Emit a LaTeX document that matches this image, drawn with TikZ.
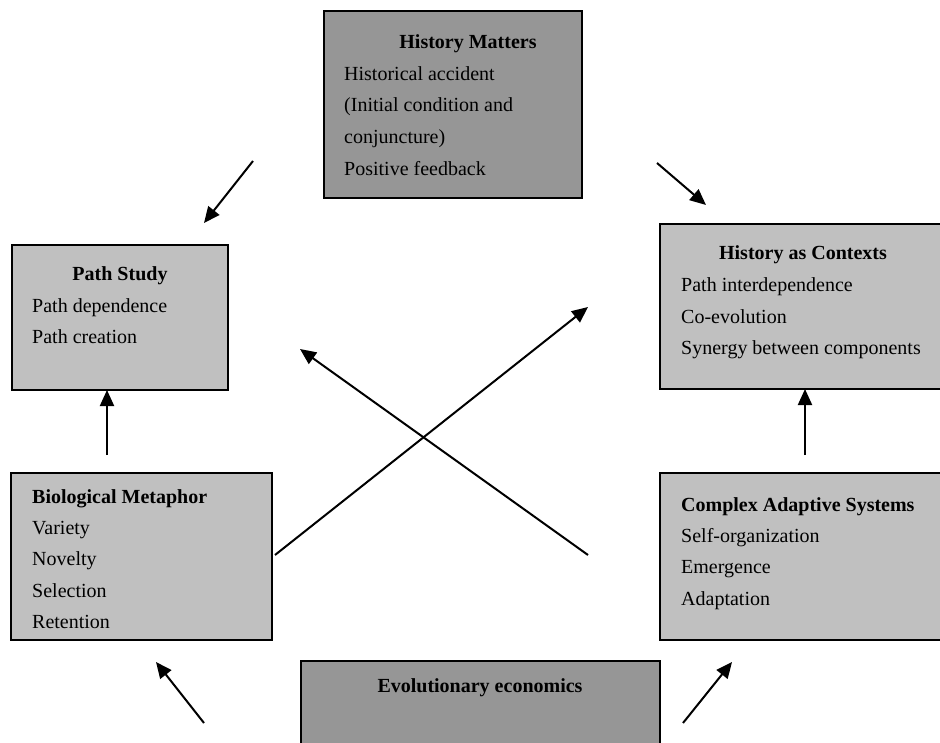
\documentclass[tikz,border=0pt]{standalone}
\usepackage{fontspec}
\setmainfont{Liberation Serif}
\usetikzlibrary{arrows.meta}
\definecolor{boxdark}{HTML}{969696}
\definecolor{boxlight}{HTML}{C0C0C0}
\begin{document}
\begin{tikzpicture}[x=1pt,y=-1pt,
  panel/.style={draw=black, line width=2pt, anchor=north west, inner sep=0pt, outer sep=0pt},
  darkpanel/.style={panel, fill=boxdark},
  lightpanel/.style={panel, fill=boxlight},
  itemtext/.style={anchor=base west, inner sep=0pt, font=\fontsize{20}{24}\selectfont},
  headtext/.style={anchor=base, inner sep=0pt, font=\fontsize{20}{24}\selectfont\bfseries},
  headleft/.style={anchor=base west, inner sep=0pt, font=\fontsize{20}{24}\selectfont\bfseries},
  link/.style={line width=2pt, -{Triangle[length=16pt,width=14pt]}}]

\clip (0,0) rectangle (940,743);
\fill[white] (0,0) rectangle (940,743);

% boxes
\node[darkpanel,  minimum width=258pt, minimum height=187pt] (hm)  at (324,11)  {};
\node[lightpanel, minimum width=216pt, minimum height=145pt] (ps)  at (12,245)  {};
\node[lightpanel, minimum width=300pt, minimum height=165pt] (hc)  at (660,224) {};
\node[lightpanel, minimum width=261pt, minimum height=167pt] (bio) at (11,473)  {};
\node[lightpanel, minimum width=300pt, minimum height=167pt] (cas) at (660,473) {};
\node[darkpanel,  minimum width=359pt, minimum height=100pt] (ev)  at (301,661) {};

% History Matters
\node[headtext] (hmT) at (468,49) {History Matters};
\node[itemtext] (hm1) at (344,81)  {Historical accident};
\node[itemtext] (hm2) at (344,112) {(Initial condition and};
\node[itemtext] (hm3) at (344,144) {conjuncture)};
\node[itemtext] (hm4) at (344,176) {Positive feedback};

% Path Study
\node[headtext] (psT) at (120,281) {Path Study};
\node[itemtext] (ps1) at (32,313) {Path dependence};
\node[itemtext] (ps2) at (32,344) {Path creation};

% History as Contexts
\node[headtext] (hcT) at (803,260) {History as Contexts};
\node[itemtext] (hc1) at (681,292) {Path interdependence};
\node[itemtext] (hc2) at (681,324) {Co-evolution};
\node[itemtext] (hc3) at (681,355) {Synergy between components};

% Biological Metaphor
\node[headleft] (bioT) at (32,503) {Biological Metaphor};
\node[itemtext] (bio1) at (32,534) {Variety};
\node[itemtext] (bio2) at (32,565) {Novelty};
\node[itemtext] (bio3) at (32,597) {Selection};
\node[itemtext] (bio4) at (32,628) {Retention};

% Complex Adaptive Systems
\node[headleft] (casT) at (681,511) {Complex Adaptive Systems};
\node[itemtext] (cas1) at (681,542) {Self-organization};
\node[itemtext] (cas2) at (681,573) {Emergence};
\node[itemtext] (cas3) at (681,605) {Adaptation};

% Evolutionary economics
\node[headtext] (evT) at (480,692) {Evolutionary economics};

% arrow ends
\coordinate (tl0) at (253,161);  \coordinate (tl1) at (204,223);
\coordinate (tr0) at (657,163);  \coordinate (tr1) at (706,205);
\coordinate (lu0) at (107,455);
\coordinate (ru0) at (805,455);
\coordinate (xa0) at (275,555);  \coordinate (xa1) at (588,307);
\coordinate (xb0) at (588,555);  \coordinate (xb1) at (300,349);
\coordinate (bl0) at (204,723);  \coordinate (bl1) at (156,662);
\coordinate (br0) at (683,723);  \coordinate (br1) at (732,662);

% connectors
\draw[link] (tl0) -- (tl1);
\draw[link] (tr0) -- (tr1);
\draw[link] (lu0) -- (lu0 |- ps.south);
\draw[link] (ru0) -- (ru0 |- hc.south);
\draw[link] (xa0) -- (xa1);
\draw[link] (xb0) -- (xb1);
\draw[link] (bl0) -- (bl1);
\draw[link] (br0) -- (br1);
\end{tikzpicture}
\end{document}
